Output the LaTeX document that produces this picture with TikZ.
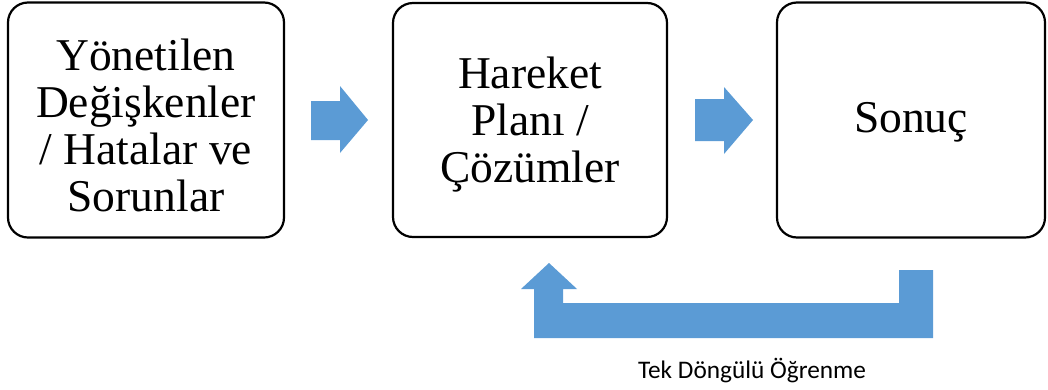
\documentclass[tikz,border=0pt]{standalone}
\usepackage{fontspec}
\setmainfont{Liberation Serif}
\newfontfamily\labelfont{Carlito}
\definecolor{flowblue}{HTML}{5B9BD5}
\tikzset{
  stagebox/.style={draw=black, line width=2.2pt, rounded corners=20pt, fill=white,
    inner sep=0pt},
  stagetext/.style={inner sep=0pt, align=center, font=\fontsize{45.5}{47}\selectfont},
  blockarrow/.style={fill=flowblue, draw=none},
}
\begin{document}
\begin{tikzpicture}[x=1pt, y=-1pt]
\useasboundingbox (0,0) rectangle (1048,389);

% stages
\node[stagebox, minimum width=276pt, minimum height=235pt] (vars) at (146,120) {};
\node[stagebox, minimum width=274pt, minimum height=234pt] (plan) at (530,120) {};
\node[stagebox, minimum width=268pt, minimum height=235pt] (result) at (911,120) {};

\node[stagetext] (varsText) at ([yshift=-5pt]vars.center)
  {Yönetilen\\Değişkenler\\/ Hatalar ve\\Sorunlar};
\node[stagetext] (planText) at ([yshift=-5pt]plan.center)
  {Hareket\\Planı /\\Çözümler};
\node[stagetext] (resultText) at ([yshift=-2pt]result.center) {Sonuç};

% forward block arrows
\fill[blockarrow] (311,101) -- (340,101) -- (340,86) -- (368,120) -- (340,153)
  -- (340,140) -- (311,140) -- cycle;
\fill[blockarrow] (695,99) -- (724,99) -- (724,87) -- (753,120) -- (724,154)
  -- (724,141) -- (695,141) -- cycle;

% feedback loop from the result back to the plan
\fill[blockarrow] (899,270) -- (933,270) -- (933,338) -- (534,338) -- (534,289)
  -- (521,289) -- (549,263) -- (577,289) -- (563,289) -- (563,303)
  -- (899,303) -- cycle;

\node[anchor=base, font=\labelfont\fontsize{25.3}{30}\selectfont, inner sep=0pt]
  (loop) at (752,378) {Tek Döngülü Öğrenme};
\end{tikzpicture}
\end{document}
